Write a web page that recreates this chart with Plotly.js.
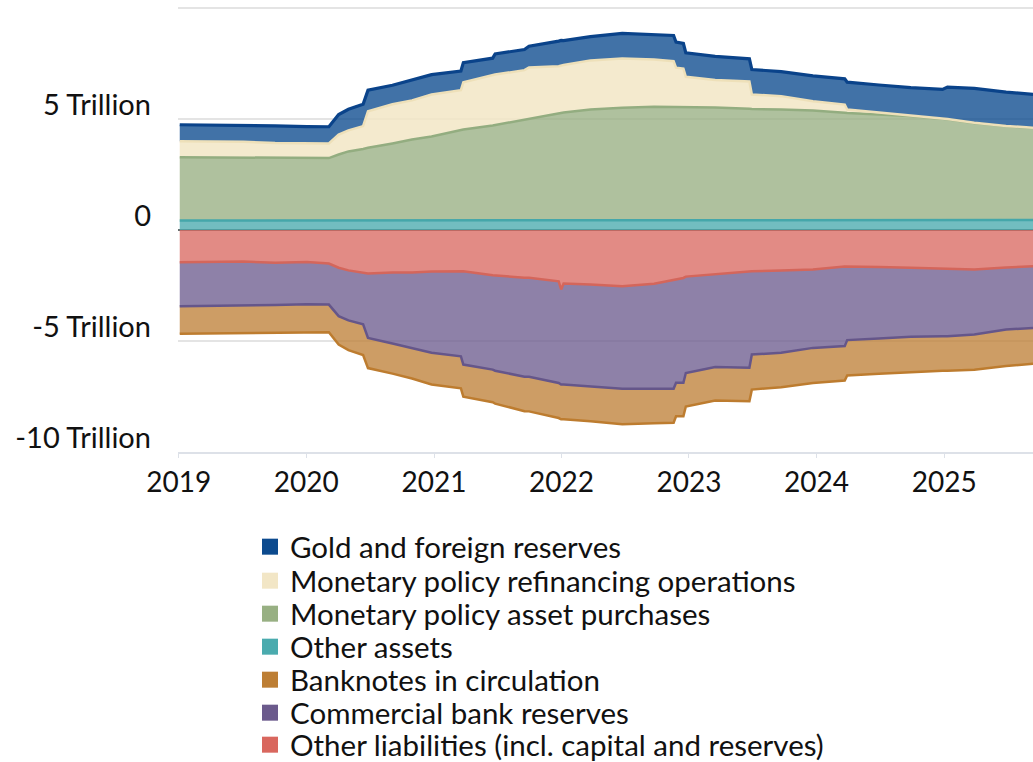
<!DOCTYPE html>
<html>
<head>
<meta charset="utf-8">
<script src="https://cdn.plot.ly/plotly-3.0.1.min.js"></script>
<style>
html,body{margin:0;padding:0;background:#fff;}
#chart{width:1033px;height:762px;}
</style>
</head>
<body>
<div id="chart"></div>
<script>
// Weekly reporting dates (sampled)
const dates = [
  '2019-01-04','2019-04-05','2019-07-05','2019-10-04','2020-01-03','2020-03-06','2020-04-03','2020-05-01',
  '2020-06-12','2020-06-26','2020-09-04','2020-10-30','2020-12-25','2021-03-19','2021-03-26','2021-06-18',
  '2021-06-25','2021-09-17','2021-09-30','2021-12-24','2021-12-31','2022-01-07','2022-03-25','2022-06-24',
  '2022-09-23','2022-11-18','2022-11-25','2022-12-16','2022-12-23','2023-03-17','2023-06-23','2023-06-30',
  '2023-09-22','2023-12-22','2024-03-22','2024-03-29','2024-06-28','2024-09-27','2024-12-27','2025-01-10',
  '2025-03-28','2025-06-27','2025-09-12'
];

// Assets (EUR trillion)
const otherAssets = [
  0.43,0.43,0.43,0.43,0.43,0.43,0.43,0.43,
  0.43,0.43,0.43,0.43,0.43,0.43,0.43,0.43,
  0.43,0.43,0.43,0.43,0.43,0.43,0.45,0.45,
  0.45,0.44,0.44,0.44,0.44,0.45,0.45,0.45,
  0.45,0.45,0.45,0.45,0.45,0.45,0.45,0.45,
  0.45,0.45,0.45
];
const assetPurchases = [
  2.85,2.84,2.82,2.81,2.81,2.81,2.97,3.11,
  3.22,3.27,3.47,3.65,3.78,4.08,4.10,4.28,
  4.30,4.55,4.57,4.81,4.84,4.86,4.98,5.06,
  5.10,5.11,5.10,5.10,5.10,5.07,5.01,5.00,
  4.98,4.93,4.83,4.82,4.75,4.68,4.56,4.54,
  4.37,4.23,4.15
];
const refinancing = [
  0.72,0.72,0.72,0.68,0.68,0.66,0.90,0.95,
  1.03,1.65,1.76,1.76,1.89,1.79,2.12,2.25,
  2.27,2.22,2.32,2.14,2.14,2.14,2.21,2.22,
  2.13,2.05,1.77,1.73,1.36,1.24,1.23,0.65,
  0.60,0.42,0.37,0.16,0.09,0.03,0.01,0.01,
  0.01,0.01,0.01
];
const goldForeign = [
  0.74,0.74,0.74,0.77,0.74,0.75,0.90,0.95,
  0.98,0.95,0.86,0.91,0.90,0.86,0.89,0.78,
  0.93,0.93,0.96,1.13,1.13,1.10,1.07,1.13,
  1.11,1.16,1.15,1.13,1.08,1.06,1.02,1.13,
  1.10,1.14,1.16,1.23,1.24,1.25,1.31,1.44,
  1.55,1.52,1.50
];

// Liabilities (EUR trillion, shown below zero)
const otherLiabilities = [
  -1.45,-1.42,-1.42,-1.48,-1.44,-1.51,-1.70,-1.82,
  -1.91,-1.96,-1.91,-1.91,-1.87,-1.86,-1.86,-2.04,
  -2.05,-2.15,-2.15,-2.31,-2.68,-2.41,-2.46,-2.53,
  -2.42,-2.23,-2.23,-2.16,-2.10,-1.98,-1.86,-1.86,
  -1.82,-1.78,-1.64,-1.64,-1.67,-1.70,-1.73,-1.73,
  -1.78,-1.69,-1.63
];
const bankReserves = [
  -1.98,-2.00,-1.98,-1.90,-1.91,-1.85,-2.18,-2.25,
  -2.34,-2.90,-3.20,-3.40,-3.66,-3.83,-4.20,-4.25,
  -4.29,-4.46,-4.46,-4.58,-4.28,-4.55,-4.58,-4.62,
  -4.73,-4.92,-4.65,-4.72,-4.34,-4.19,-4.34,-3.75,
  -3.71,-3.53,-3.59,-3.32,-3.22,-3.11,-3.06,-3.06,
  -2.93,-2.79,-2.78
];
const banknotes = [
  -1.24,-1.24,-1.24,-1.26,-1.25,-1.25,-1.28,-1.34,
  -1.38,-1.36,-1.36,-1.38,-1.43,-1.44,-1.45,-1.47,
  -1.48,-1.55,-1.56,-1.58,-1.57,-1.57,-1.58,-1.60,
  -1.56,-1.53,-1.51,-1.51,-1.51,-1.51,-1.51,-1.58,
  -1.55,-1.58,-1.55,-1.59,-1.58,-1.58,-1.55,-1.55,
  -1.58,-1.65,-1.62
];

const yTickVals = [-10, -5, 0, 5, 10];
const yTickText = ['-10 Trillion', '-5 Trillion', '0', '5 Trillion', ''];
const xTickVals = ['2019-01-01','2020-01-01','2021-01-01','2022-01-01','2023-01-01','2024-01-01','2025-01-01'];
const xTickText = ['2019','2020','2021','2022','2023','2024','2025'];

const seriesDefs = [
  {name:'Other assets', y: otherAssets, group:'assets', line:'#45a7aa', fill:'rgba(74,171,174,0.78)', lw:2.5},
  {name:'Monetary policy asset purchases', y: assetPurchases, group:'assets', line:'#93ad80', fill:'rgba(152,176,131,0.78)', lw:2.5},
  {name:'Monetary policy refinancing operations', y: refinancing, group:'assets', line:'#eee0b9', fill:'rgba(242,230,198,0.85)', lw:2.5},
  {name:'Gold and foreign reserves', y: goldForeign, group:'assets', line:'#0a438a', fill:'rgba(12,74,142,0.78)', lw:3.2},
  {name:'Other liabilities (incl. capital and reserves)', y: otherLiabilities, group:'liab', line:'#d4665b', fill:'rgba(217,103,94,0.76)', lw:2.5},
  {name:'Commercial bank reserves', y: bankReserves, group:'liab', line:'#65568a', fill:'rgba(107,90,140,0.76)', lw:2.5},
  {name:'Banknotes in circulation', y: banknotes, group:'liab', line:'#bd7c2f', fill:'rgba(189,126,52,0.76)', lw:2.5}
];

const traces = seriesDefs.map(s => ({
  type:'scatter', mode:'lines', x: dates, y: s.y, name: s.name,
  stackgroup: s.group, line:{color:s.line, width:s.lw, shape:'linear'},
  fillcolor: s.fill, showlegend:false, hoverinfo:'skip'
}));

const legendOrder = [
  ['Gold and foreign reserves','#0c4a8e'],
  ['Monetary policy refinancing operations','#f2e6c6'],
  ['Monetary policy asset purchases','#98b083'],
  ['Other assets','#4aabae'],
  ['Banknotes in circulation','#bd7e34'],
  ['Commercial bank reserves','#6b5a8c'],
  ['Other liabilities (incl. capital and reserves)','#d9675e']
];
// one legend per entry so the row spacing can follow the reference
const legendRowsPx = [547, 581, 614, 647, 680, 713, 745];
const plotBottomPx = 452;

const layout = {
  width:1033, height:762,
  margin:{l:178, r:0, t:0, b:310, pad:0, autoexpand:false},
  paper_bgcolor:'#ffffff', plot_bgcolor:'#ffffff',
  font:{family:'Lato, "Open Sans", sans-serif', size:29, color:'#111111'},
  showlegend:true,
  xaxis:{type:'date', range:['2018-12-30','2025-09-12'], tickmode:'array', tickvals:xTickVals, ticktext:xTickText,
         showgrid:false, zeroline:false, showline:true, linecolor:'#dde1e8', linewidth:2,
         ticks:'outside', ticklen:4, tickwidth:1, tickcolor:'#dde1e8', ticklabelstandoff:0,
         tickfont:{size:28, color:'#111111'}, fixedrange:true},
  yaxis:{range:[-10, 10.36], tickmode:'array', tickvals:yTickVals, ticktext:yTickText,
         showgrid:true, gridcolor:'#e4e4e4', gridwidth:2, zeroline:true, zerolinecolor:'#667070', zerolinewidth:1.5,
         showline:false, ticks:'', ticklabelshift:-14, ticklabelstandoff:26,
         tickfont:{size:29, color:'#111111'}, fixedrange:true},
  hovermode:false
};

legendOrder.forEach(([n,c], i) => {
  const id = i === 0 ? 'legend' : 'legend' + (i + 1);
  traces.push({
    type:'scatter', mode:'markers', x:[null], y:[null], name:n, legend:id,
    marker:{symbol:'square', size:16, color:c, line:{width:0}}, showlegend:true, hoverinfo:'skip'
  });
  layout[id] = {
    x:0.0842, xanchor:'left', y:(plotBottomPx - legendRowsPx[i]) / plotBottomPx, yanchor:'middle',
    bgcolor:'rgba(0,0,0,0)', borderwidth:0,
    font:{family:'Lato, sans-serif', size:29.5, color:'#111111'},
    itemclick:false, itemdoubleclick:false
  };
});

Plotly.newPlot('chart', traces, layout, {displayModeBar:false, staticPlot:true});
</script>
</body>
</html>
